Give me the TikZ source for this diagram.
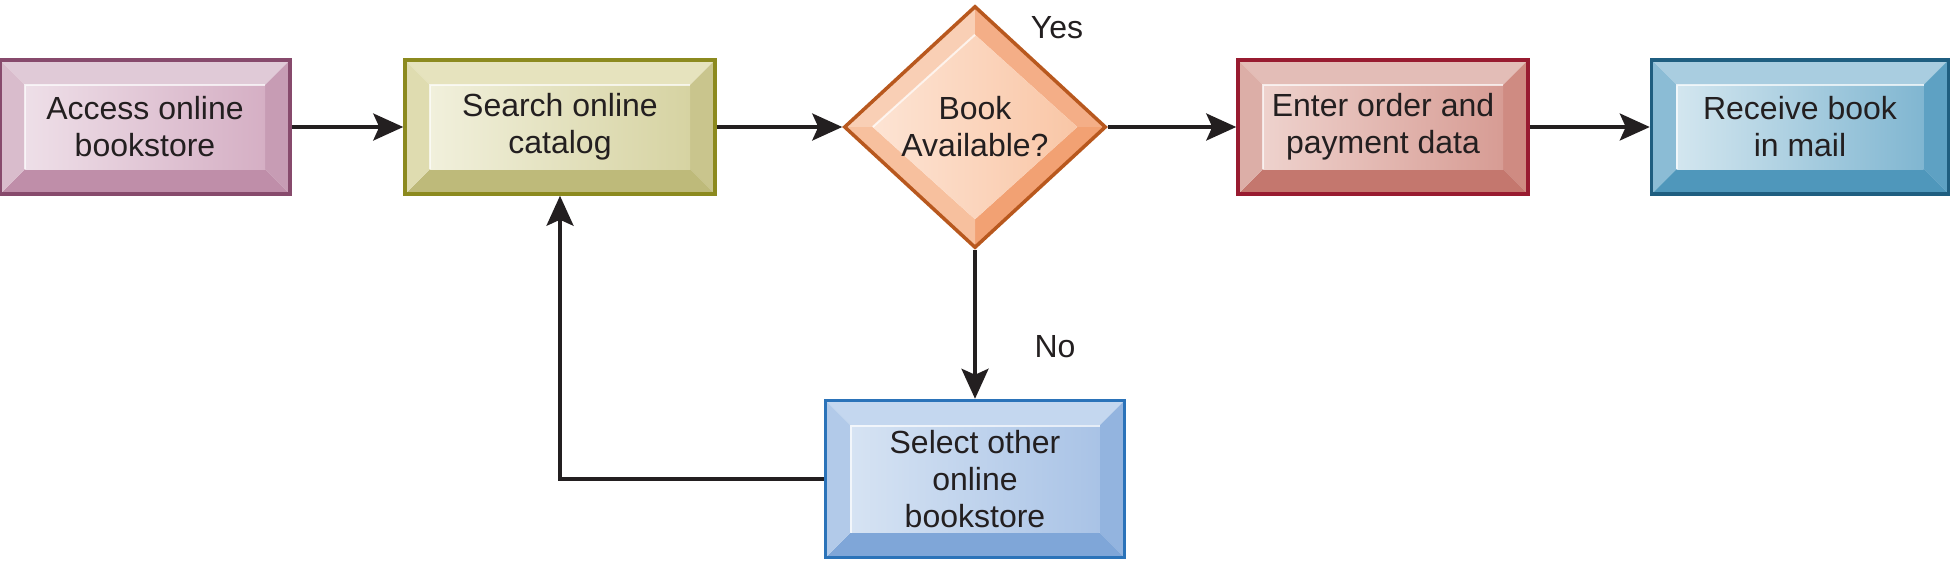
\documentclass[tikz,border=0pt]{standalone}
\usepackage{fontspec}
\setmainfont{Liberation Sans}
\usepackage{tikz}
\usetikzlibrary{calc}
\usetikzlibrary{positioning}
\usetikzlibrary{arrows.meta}
\usetikzlibrary{shapes.geometric}
\usepackage{xcolor}

\definecolor{ink}{HTML}{231F20}
% access (mauve)
\definecolor{accline}{HTML}{874A6C}
\definecolor{acctop}{HTML}{E0CAD7}
\definecolor{accleft}{HTML}{D9BCCC}
\definecolor{accright}{HTML}{C79CB4}
\definecolor{accbot}{HTML}{BF8EA9}
\definecolor{accinl}{HTML}{EEDFE8}
\definecolor{accinr}{HTML}{D5AFC4}
% search (olive)
\definecolor{srchline}{HTML}{8C8A1F}
\definecolor{srchtop}{HTML}{E6E3BE}
\definecolor{srchleft}{HTML}{DFDCB0}
\definecolor{srchright}{HTML}{C9C58D}
\definecolor{srchbot}{HTML}{BEBA7A}
\definecolor{srchinl}{HTML}{F1F0DC}
\definecolor{srchinr}{HTML}{D6D3A2}
% decision (orange)
\definecolor{avlline}{HTML}{B8581E}
\definecolor{avltop}{HTML}{F9CFB5}
\definecolor{avlright}{HTML}{F4AE87}
\definecolor{avlbot}{HTML}{F2A173}
\definecolor{avlleft}{HTML}{F7C09E}
\definecolor{avlinl}{HTML}{FDE4D4}
\definecolor{avlinr}{HTML}{F9C6A6}
% order (red)
\definecolor{ordline}{HTML}{981B30}
\definecolor{ordtop}{HTML}{E3BDB7}
\definecolor{ordleft}{HTML}{DCAEA7}
\definecolor{ordright}{HTML}{CF8B82}
\definecolor{ordbot}{HTML}{C4776E}
\definecolor{ordinl}{HTML}{EED2CD}
\definecolor{ordinr}{HTML}{D79C94}
% receive (teal)
\definecolor{rcvline}{HTML}{1F5E80}
\definecolor{rcvtop}{HTML}{A9CDE0}
\definecolor{rcvleft}{HTML}{8BBCD5}
\definecolor{rcvright}{HTML}{5EA1C3}
\definecolor{rcvbot}{HTML}{4F97BB}
\definecolor{rcvinl}{HTML}{D3E6EF}
\definecolor{rcvinr}{HTML}{80B6D1}
% other store (blue)
\definecolor{othline}{HTML}{2B73B9}
\definecolor{othtop}{HTML}{C4D7EF}
\definecolor{othleft}{HTML}{B2CAE9}
\definecolor{othright}{HTML}{93B4DF}
\definecolor{othbot}{HTML}{7FA6D8}
\definecolor{othinl}{HTML}{D6E3F3}
\definecolor{othinr}{HTML}{A9C3E6}

\newcommand{\bev}{25pt}
\newcommand{\boxfont}{\fontsize{32}{37}\selectfont}

\tikzset{
  bevelbox/.style={rectangle, draw=#1line, line width=3.5pt, minimum width=294pt,
    minimum height=134pt, inner sep=0pt, align=center, text=ink, font=\boxfont,
    path picture={
      \coordinate (a1) at (path picture bounding box.north west);
      \coordinate (a2) at (path picture bounding box.north east);
      \coordinate (a3) at (path picture bounding box.south east);
      \coordinate (a4) at (path picture bounding box.south west);
      \coordinate (b1) at ($(a1)+(\bev,-\bev)$);
      \coordinate (b2) at ($(a2)+(-\bev,-\bev)$);
      \coordinate (b3) at ($(a3)+(-\bev,\bev)$);
      \coordinate (b4) at ($(a4)+(\bev,\bev)$);
      \fill[#1top] (a1) -- (a2) -- (b2) -- (b1) -- cycle;
      \fill[#1right] (a2) -- (a3) -- (b3) -- (b2) -- cycle;
      \fill[#1bot] (a3) -- (a4) -- (b4) -- (b3) -- cycle;
      \fill[#1left] (a4) -- (a1) -- (b1) -- (b4) -- cycle;
      \shade[left color=#1inl, right color=#1inr] (b1) rectangle (b3);
      \draw[white, opacity=0.7, line width=2pt] (b4) -- (b1) -- (b2);
    }},
  beveldiamond/.style={diamond, draw=#1line, line width=3.5pt, aspect=1.09,
    minimum width=262pt, minimum height=242pt, inner sep=0pt, align=center,
    text=ink, font=\boxfont,
    path picture={
      \coordinate (n0) at (path picture bounding box.north);
      \coordinate (e0) at (path picture bounding box.east);
      \coordinate (s0) at (path picture bounding box.south);
      \coordinate (w0) at (path picture bounding box.west);
      \coordinate (n1) at ($(n0)+(0,-28pt)$);
      \coordinate (e1) at ($(e0)+(-28pt,0)$);
      \coordinate (s1) at ($(s0)+(0,28pt)$);
      \coordinate (w1) at ($(w0)+(28pt,0)$);
      \fill[#1top] (w0) -- (n0) -- (n1) -- (w1) -- cycle;
      \fill[#1right] (n0) -- (e0) -- (e1) -- (n1) -- cycle;
      \fill[#1bot] (e0) -- (s0) -- (s1) -- (e1) -- cycle;
      \fill[#1left] (s0) -- (w0) -- (w1) -- (s1) -- cycle;
      \shade[left color=#1inl, right color=#1inr] (n1) -- (e1) -- (s1) -- (w1) -- cycle;
      \draw[white, opacity=0.7, line width=2pt] (w1) -- (n1);
    }},
  lbl/.style={text=ink, font=\boxfont},
  every edge/.style={draw=ink, line width=3.2pt},
}

\begin{document}
\begin{tikzpicture}[x=1pt, y=1pt, node distance=415pt, on grid,
    >={Stealth[length=30pt, width=27pt, inset=6pt]}]
        \useasboundingbox (0,0) rectangle (1950,-560);

        \node[bevelbox=acc, minimum width=290pt] (acc) at (145,-127) {Access online\\bookstore};
        \node[bevelbox=srch, minimum width=310pt] (srch) [right=of acc] {Search online\\catalog};
        \node[beveldiamond=avl] (avl) [right=of srch] {Book\\Available?};
        \node[bevelbox=ord, minimum width=290pt] (ord) [right=408pt of avl] {Enter order and\\payment data};
        \node[bevelbox=rcv, minimum width=297pt] (rcv) [right=417pt of ord] {Receive book\\in mail};
        \node[bevelbox=oth, minimum width=299pt, minimum height=157pt] (oth) [below=352pt of avl] {Select other\\online\\bookstore};

        \node[lbl] (yes) [above right=99pt and 82pt of avl] {Yes};
        \node[lbl] (no) [below right=220pt and 80pt of avl] {No};

        \path [->]
          (acc) edge [] node {} (srch)
          (srch) edge [] node {} (avl)
          (avl) edge [] node {} (ord)
          (ord) edge [] node {} (rcv)
          (avl) edge [] node {} (oth);

        \draw [->, draw=ink, line width=3.2pt] (oth) -| (srch);

      \end{tikzpicture}
\end{document}
